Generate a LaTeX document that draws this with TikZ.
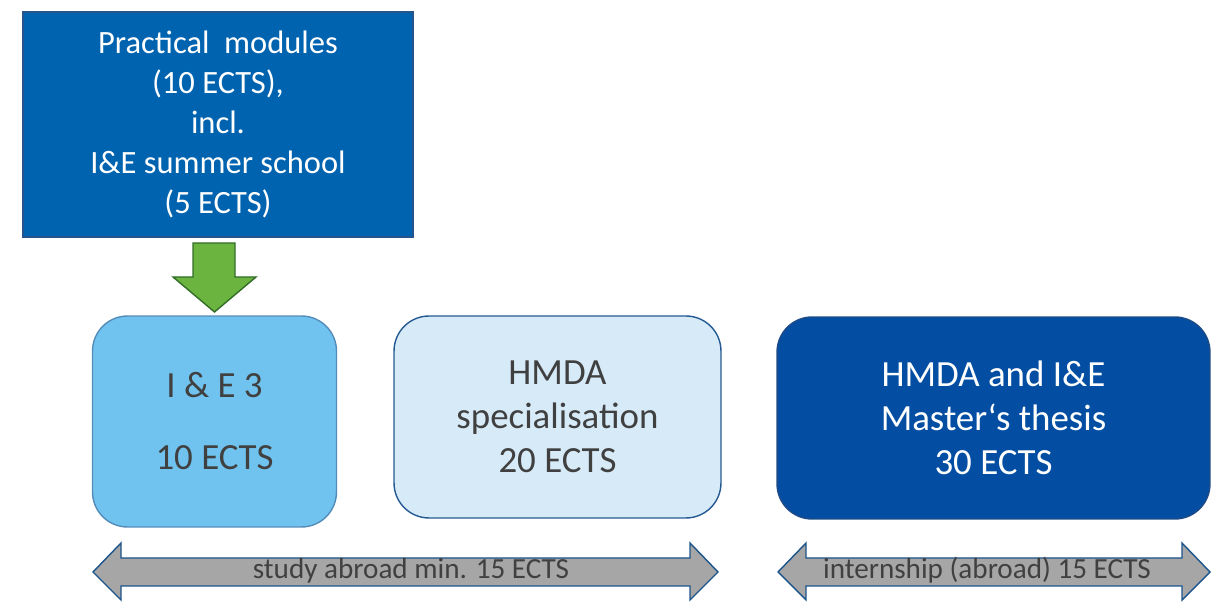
\documentclass[tikz,border=0pt]{standalone}
\usepackage{fontspec}
\setmainfont{Carlito}
\definecolor{pracblue}{RGB}{0,99,175}
\definecolor{pracline}{RGB}{38,84,140}
\definecolor{ieblue}{RGB}{113,195,239}
\definecolor{ieline}{RGB}{84,140,185}
\definecolor{specblue}{RGB}{214,234,248}
\definecolor{specline}{RGB}{36,90,145}
\definecolor{thesisblue}{RGB}{3,78,162}
\definecolor{thesisline}{RGB}{30,75,135}
\definecolor{arrowgreen}{RGB}{108,180,64}
\definecolor{greenline}{RGB}{50,110,40}
\definecolor{bargray}{RGB}{166,166,166}
\definecolor{barline}{RGB}{28,84,140}
\definecolor{textgray}{RGB}{64,64,64}
\tikzset{
  box/.style={draw,line width=0.8pt,rounded corners=0.7cm,align=center,inner sep=0pt,font=\fontsize{21}{25}\selectfont},
  bar/.style={fill=bargray,draw=barline,line width=0.8pt},
  bartext/.style={anchor=base,inner sep=0pt,text=textgray,font=\fontsize{16.6}{19}\selectfont}
}
\begin{document}
\begin{tikzpicture}[x=0.02cm,y=-0.02cm]
\useasboundingbox (0,0) rectangle (1218,614);
\node[draw=pracline,line width=0.8pt,fill=pracblue,text=white,minimum width=7.8cm,minimum height=4.5cm,align=center,font=\fontsize{18.5}{22.7}\selectfont](prac) at (218,124.5){Practical\ \ modules\\(10 ECTS),\\incl.\\I\&E summer school\\(5 ECTS)};
\node[box,draw=ieline,fill=ieblue,text=textgray,minimum width=4.88cm,minimum height=4.22cm](ie3) at (214.5,421.5){I \& E 3\\[16pt]10 ECTS};
\node[box,draw=specline,fill=specblue,text=textgray,minimum width=6.54cm,minimum height=4.04cm](spec) at (557.5,417){HMDA\\specialisation\\20 ECTS};
\node[box,draw=thesisline,fill=thesisblue,text=white,minimum width=8.66cm,minimum height=4.04cm](thesis) at (993.5,418){HMDA and I\&E\\Master‘s thesis\\30 ECTS};
\draw[fill=arrowgreen,draw=greenline,line width=0.8pt] (193,243) -- (235,243) -- (235,277) -- (256,277) -- (214.5,312) -- (173,277) -- (193,277) -- cycle;
\foreach \l/\r/\x/\name/\txt in {93/718/411/abroad/study abroad min. 15 ECTS,778/1210/987/intern/internship (abroad) 15 ECTS}{
  \draw[bar] (\l,572) -- (\l+28,543) -- (\l+28,558) -- (\r-28,558) -- (\r-28,543) -- (\r,572) -- (\r-28,600) -- (\r-28,586) -- (\l+28,586) -- (\l+28,600) -- cycle;
  \node[bartext](\name) at (\x,579){\txt};
}
\end{tikzpicture}
\end{document}
